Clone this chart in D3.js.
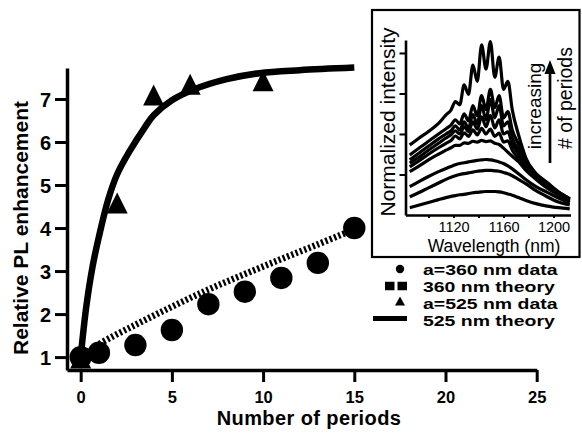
<!DOCTYPE html>
<html><head><meta charset="utf-8">
<script src="https://cdn.jsdelivr.net/npm/d3@7"></script>
<style>
html,body{margin:0;padding:0;background:#fff;}
svg{display:block;font-family:"Liberation Sans",Arial,Helvetica,sans-serif;}
</style></head>
<body>
<svg id="chart" width="582" height="443"></svg>
<script>
// ---------- main chart data ----------
const periods360 = [0, 1, 3, 5, 7, 9, 11, 13, 15];
const pl360 = [1.0, 1.1, 1.28, 1.63, 2.23, 2.52, 2.84, 3.19, 4.0];
const periods525 = [0, 2, 4, 6, 10];
const pl525 = [0.9, 4.5, 7.01, 7.26, 7.34];
const theory360X = [0, 1, 3, 5, 7, 9, 11, 13, 15];
const theory360Y = [1.0, 1.3, 1.75, 2.17, 2.57, 2.93, 3.28, 3.62, 3.97];
const theory525X = [0, 0.3, 0.65, 1.0, 1.5, 2.0, 2.7, 3.5, 4.0, 5.0, 6.2, 8.0, 9.8, 12, 15];
const theory525Y = [1.0, 2.15, 3.1, 3.8, 4.65, 5.25, 5.8, 6.33, 6.62, 6.97, 7.22, 7.46, 7.6, 7.67, 7.73];
const xTicks = [0, 5, 10, 15, 20, 25];
const yTicks = [1, 2, 3, 4, 5, 6, 7];
const legendLabels = ["a=360 nm data", "360 nm theory", "a=525 nm data", "525 nm theory"];
const xTitle = "Number of periods";
const yTitle = "Relative PL enhancement";

// ---------- inset data ----------
const wavelengths = [1085, 1092, 1100, 1108, 1114, 1118, 1121.5, 1125, 1128.5, 1132, 1135.5, 1139, 1142.5, 1146, 1149.5, 1153, 1156.5, 1160, 1163.5, 1167, 1172, 1178, 1186, 1195, 1204, 1213];
const spec1 = [0.18, 0.24, 0.31, 0.38, 0.43, 0.46, 0.48, 0.50, 0.51, 0.53, 0.55, 0.56, 0.57, 0.58, 0.58, 0.58, 0.57, 0.55, 0.52, 0.49, 0.43, 0.36, 0.28, 0.22, 0.18, 0.15];
const spec2 = [0.45, 0.55, 0.67, 0.79, 0.88, 0.93, 0.97, 1.0, 1.02, 1.04, 1.06, 1.08, 1.09, 1.10, 1.10, 1.09, 1.08, 1.05, 1.02, 0.97, 0.88, 0.77, 0.60, 0.45, 0.32, 0.25];
const spec3 = [0.70, 0.82, 0.95, 1.07, 1.15, 1.20, 1.24, 1.27, 1.29, 1.31, 1.33, 1.35, 1.36, 1.37, 1.36, 1.34, 1.31, 1.27, 1.21, 1.14, 1.02, 0.87, 0.70, 0.56, 0.42, 0.30];
const spec4 = [1.07, 1.20, 1.36, 1.50, 1.60, 1.66, 1.72, 1.72, 1.78, 1.77, 1.82, 1.80, 1.84, 1.81, 1.83, 1.77, 1.74, 1.65, 1.55, 1.45, 1.32, 1.10, 0.88, 0.66, 0.50, 0.34];
const spec5 = [1.19, 1.33, 1.50, 1.66, 1.77, 1.84, 1.95, 1.88, 2.03, 1.94, 2.10, 1.98, 2.14, 2.00, 2.12, 1.94, 2.02, 1.80, 1.83, 1.60, 1.40, 1.15, 0.92, 0.70, 0.52, 0.37];
const spec6 = [1.28, 1.42, 1.60, 1.77, 1.90, 1.98, 2.08, 2.00, 2.18, 2.06, 2.30, 2.12, 2.42, 2.18, 2.46, 2.15, 2.35, 2.00, 2.05, 1.75, 1.50, 1.20, 0.96, 0.74, 0.54, 0.38];
const spec7 = [1.36, 1.52, 1.70, 1.88, 2.00, 2.08, 2.20, 2.10, 2.30, 2.15, 2.48, 2.25, 2.70, 2.35, 2.85, 2.40, 2.70, 2.20, 2.30, 1.90, 1.60, 1.25, 1.00, 0.77, 0.56, 0.40];
const spec8 = [1.48, 1.64, 1.82, 2.00, 2.13, 2.22, 2.35, 2.25, 2.50, 2.32, 2.70, 2.45, 2.95, 2.60, 3.10, 2.65, 2.95, 2.40, 2.55, 2.10, 1.75, 1.32, 1.02, 0.80, 0.57, 0.40];
const spec9 = [1.73, 1.89, 2.06, 2.26, 2.47, 2.59, 2.80, 2.72, 3.21, 2.98, 3.70, 3.30, 4.20, 3.60, 4.28, 3.40, 3.90, 3.10, 3.30, 2.60, 1.98, 1.40, 1.02, 0.78, 0.56, 0.40];
const spectra = [spec1, spec2, spec3, spec4, spec5, spec6, spec7, spec8, spec9];
const insetXTicks = [1100, 1120, 1140, 1160, 1180, 1200];
const insetXLabels = [1120, 1160, 1200];
const insetYTicks = [1, 2, 3, 4];
const insetXTitle = "Wavelength (nm)";
const insetYTitle = "Normalized intensity";
const arrowLabels = ["increasing", "# of periods"];

// ---------- drawing ----------
const svg = d3.select("#chart");
const x = d3.scaleLinear().domain([-0.75, 25]).range([67, 536.7]);
const y = d3.scaleLinear().domain([0.7, 7.72]).range([370, 68]);

// axes
const gx = svg.append("g").attr("transform", `translate(0,${y(0.7)})`)
  .call(d3.axisBottom(x).tickValues(xTicks).tickSize(12).tickSizeOuter(0).tickPadding(9)
    .tickFormat(d3.format("d")));
const gy = svg.append("g").attr("transform", `translate(${x(-0.75)},0)`)
  .call(d3.axisLeft(y).tickValues(yTicks).tickSize(12).tickSizeOuter(0).tickPadding(4)
    .tickFormat(d3.format("d")));
[gx, gy].forEach(g => {
  g.select(".domain").attr("stroke", "#000").attr("stroke-width", 3.5);
  g.selectAll(".tick line").attr("stroke", "#000").attr("stroke-width", 3);
  g.selectAll(".tick text").attr("fill", "#000").attr("font-weight", "bold")
    .attr("font-family", "Liberation Sans, Arial, sans-serif");
});
gx.selectAll(".tick text").attr("font-size", 16.5);
gy.selectAll(".tick text").attr("font-size", 20).attr("dy", "0.36em");

svg.append("text").attr("x", 309).attr("y", 425).attr("text-anchor", "middle")
  .attr("font-weight", "bold").attr("font-size", 20).attr("letter-spacing", 0.4).text(xTitle);
svg.append("text").attr("transform", "translate(28,228) rotate(-90)").attr("text-anchor", "middle")
  .attr("font-weight", "bold").attr("font-size", 21).text(yTitle);

// theory lines
const line = d3.line().x(d => x(d[0])).y(d => y(d[1])).curve(d3.curveCatmullRom.alpha(0.5));
svg.append("path").datum(theory360X.map((v, i) => [v, theory360Y[i]]))
  .attr("d", line).attr("fill", "none").attr("stroke", "#000")
  .attr("stroke-width", 6.5).attr("stroke-dasharray", "2.3,2.3");
svg.append("path").datum(theory525X.map((v, i) => [v, theory525Y[i]]))
  .attr("d", line).attr("fill", "none").attr("stroke", "#000")
  .attr("stroke-width", 6.5);

// markers
const triPath = (cx, cy, w, h) => `M${cx},${cy - h * 2 / 3}L${cx + w / 2},${cy + h / 3}L${cx - w / 2},${cy + h / 3}Z`;
svg.append("g").selectAll("path").data(periods525.map((v, i) => [v, pl525[i]])).join("path")
  .attr("d", d => triPath(x(d[0]), y(d[1]), 21, 21)).attr("fill", "#000");
svg.append("g").selectAll("circle").data(periods360.map((v, i) => [v, pl360[i]])).join("circle")
  .attr("cx", d => x(d[0])).attr("cy", d => y(d[1])).attr("r", 11.2).attr("fill", "#000");

// legend
const lx = 400, ltx = 423, lbase = [274.5, 291.5, 308.5, 325.5];
const lg = svg.append("g");
lg.append("circle").attr("cx", lx).attr("cy", lbase[0] - 5.5).attr("r", 4.2).attr("fill", "#000");
lg.append("line").attr("x1", 385).attr("x2", 407).attr("y1", lbase[1] - 5.5).attr("y2", lbase[1] - 5.5)
  .attr("stroke", "#000").attr("stroke-width", 8.5).attr("stroke-dasharray", "9.5,3");
lg.append("path").attr("d", triPath(lx, lbase[2] - 6, 10, 9)).attr("fill", "#000");
lg.append("line").attr("x1", 373).attr("x2", 407).attr("y1", lbase[3] - 7).attr("y2", lbase[3] - 7)
  .attr("stroke", "#000").attr("stroke-width", 5);
lg.selectAll("text").data(legendLabels).join("text")
  .attr("transform", (d, i) => `translate(${ltx},${lbase[i]}) scale(1.28,1)`)
  .attr("font-weight", "bold").attr("font-size", 15.2).text(d => d);

// ---------- inset ----------
const ig = svg.append("g");
ig.append("rect").attr("x", 372).attr("y", 10).attr("width", 207.5).attr("height", 247)
  .attr("fill", "#fff").attr("stroke", "#000").attr("stroke-width", 2.2);
const xi = d3.scaleLinear().domain([1081.6, 1213.6]).range([405.5, 570.5]);
const yi = d3.scaleLinear().domain([0, 4.32]).range([215, 40]);

const specLine = d3.line().x((d, i) => xi(wavelengths[i])).y(d => yi(d)).curve(d3.curveMonotoneX);
ig.append("g").selectAll("path").data(spectra).join("path")
  .attr("d", specLine).attr("fill", "none").attr("stroke", "#000").attr("stroke-width", 3.2)
  .attr("stroke-linejoin", "round");

const gxi = ig.append("g").attr("transform", `translate(0,${yi(0)})`)
  .call(d3.axisBottom(xi).tickValues(insetXTicks).tickSize(3).tickSizeOuter(0).tickPadding(4)
    .tickFormat(d => insetXLabels.includes(d) ? String(d) : ""));
gxi.selectAll(".tick text").filter(function () { return this.textContent === ""; }).remove();
const gyi = ig.append("g").attr("transform", `translate(${xi(1081.6)},0)`)
  .call(d3.axisLeft(yi).tickValues(insetYTicks).tickSize(6).tickSizeOuter(0).tickFormat(""));
gyi.selectAll(".tick text").remove();
[gxi, gyi].forEach(g => {
  g.select(".domain").attr("stroke", "#000").attr("stroke-width", 2.6);
  g.selectAll(".tick line").attr("stroke", "#000").attr("stroke-width", 2);
  g.selectAll(".tick text").attr("fill", "#000").attr("font-size", 14.5)
    .attr("font-family", "Liberation Sans, Arial, sans-serif");
});
ig.append("text").attr("x", 494).attr("y", 252).attr("text-anchor", "middle")
  .attr("font-size", 17.5).text(insetXTitle);
ig.append("text").attr("transform", "translate(395,122) rotate(-90)").attr("text-anchor", "middle")
  .attr("font-size", 21).text(insetYTitle);
ig.append("text").attr("transform", "translate(541,106) rotate(-90)").attr("text-anchor", "middle")
  .attr("font-size", 19).text(arrowLabels[0]);
ig.append("text").attr("transform", "translate(571.5,98) rotate(-90)").attr("text-anchor", "middle")
  .attr("font-size", 19.5).text(arrowLabels[1]);
ig.append("line").attr("x1", 550).attr("x2", 550).attr("y1", 163).attr("y2", 72)
  .attr("stroke", "#000").attr("stroke-width", 2.7);
ig.append("path").attr("d", "M550,60L555.5,74L544.5,74Z").attr("fill", "#000");
</script>
</body></html>
